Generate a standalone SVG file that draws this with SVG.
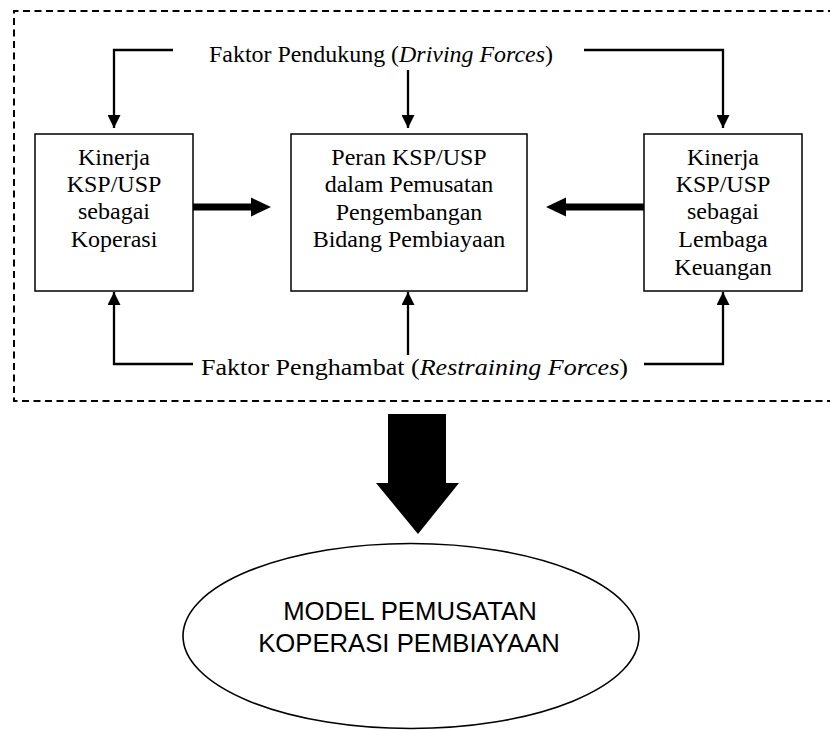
<svg xmlns="http://www.w3.org/2000/svg" width="830" height="730" viewBox="0 0 830 730">
<style>
.box{fill:#fff;stroke:#000;stroke-width:1.5}
.t{font-family:"Liberation Serif","Times New Roman",serif;font-size:24px;fill:#000;text-anchor:middle}
.s{font-family:"Liberation Sans",Arial,sans-serif;font-size:25.7px;fill:#000;text-anchor:middle}
.ln{fill:none;stroke:#000;stroke-width:2.3}
.dash{fill:none;stroke:#000;stroke-width:2;stroke-dasharray:7 4.5}
</style>
<defs>
<marker id="ah" markerUnits="userSpaceOnUse" markerWidth="13" markerHeight="13" refX="13" refY="6.5" orient="auto">
<path d="M0,0 L13,6.5 L0,13 z" fill="#000"/>
</marker>
</defs>
<rect width="830" height="730" fill="#fff"/>
<path class="dash" d="M835,11 H14 V401 H835"/>
<g id="connectors">
<path class="ln" d="M173,50 H114 V128" marker-end="url(#ah)"/>
<path class="ln" d="M584,50 H723 V128" marker-end="url(#ah)"/>
<path class="ln" d="M408,70 V128" marker-end="url(#ah)"/>
<path class="ln" d="M193,364 H114 V292" marker-end="url(#ah)"/>
<path class="ln" d="M644,364 H723 V292" marker-end="url(#ah)"/>
<path class="ln" d="M408,355 V292" marker-end="url(#ah)"/>
<polygon points="193,203.5 251,203.5 251,197.5 271,207 251,216.5 251,210.5 193,210.5" fill="#000"/>
<polygon points="644,203.5 566,203.5 566,197.5 546,207 566,216.5 566,210.5 644,210.5" fill="#000"/>
<polygon points="388,414 446,414 446,483 459,483 418,534 376,483 388,483" fill="#000"/>
</g>
<g id="label-driving">
<text class="t" x="381" y="62" textLength="344" lengthAdjust="spacingAndGlyphs">Faktor Pendukung (<tspan font-style="italic">Driving Forces</tspan>)</text>
</g>
<g id="label-restraining">
<text class="t" x="414.5" y="375" textLength="427" lengthAdjust="spacingAndGlyphs">Faktor Penghambat (<tspan font-style="italic">Restraining Forces</tspan>)</text>
</g>
<g id="node-koperasi">
<rect class="box" x="35" y="134" width="158" height="157"/>
<text class="t" x="114" y="165">Kinerja</text>
<text class="t" x="114" y="192">KSP/USP</text>
<text class="t" x="114" y="219">sebagai</text>
<text class="t" x="114" y="247">Koperasi</text>
</g>
<g id="node-peran">
<rect class="box" x="291" y="134" width="236" height="157"/>
<text class="t" x="409" y="165">Peran KSP/USP</text>
<text class="t" x="409" y="192">dalam Pemusatan</text>
<text class="t" x="409" y="220">Pengembangan</text>
<text class="t" x="409" y="247">Bidang Pembiayaan</text>
</g>
<g id="node-lembaga">
<rect class="box" x="644" y="134" width="158" height="157"/>
<text class="t" x="723" y="165">Kinerja</text>
<text class="t" x="723" y="192">KSP/USP</text>
<text class="t" x="723" y="219">sebagai</text>
<text class="t" x="723" y="247">Lembaga</text>
<text class="t" x="723" y="275">Keuangan</text>
</g>
<g id="node-model">
<ellipse cx="411" cy="636" rx="228" ry="92.5" fill="#fff" stroke="#000" stroke-width="1.6"/>
<text class="s" x="410" y="620">MODEL PEMUSATAN</text>
<text class="s" x="409" y="652">KOPERASI PEMBIAYAAN</text>
</g>
</svg>
